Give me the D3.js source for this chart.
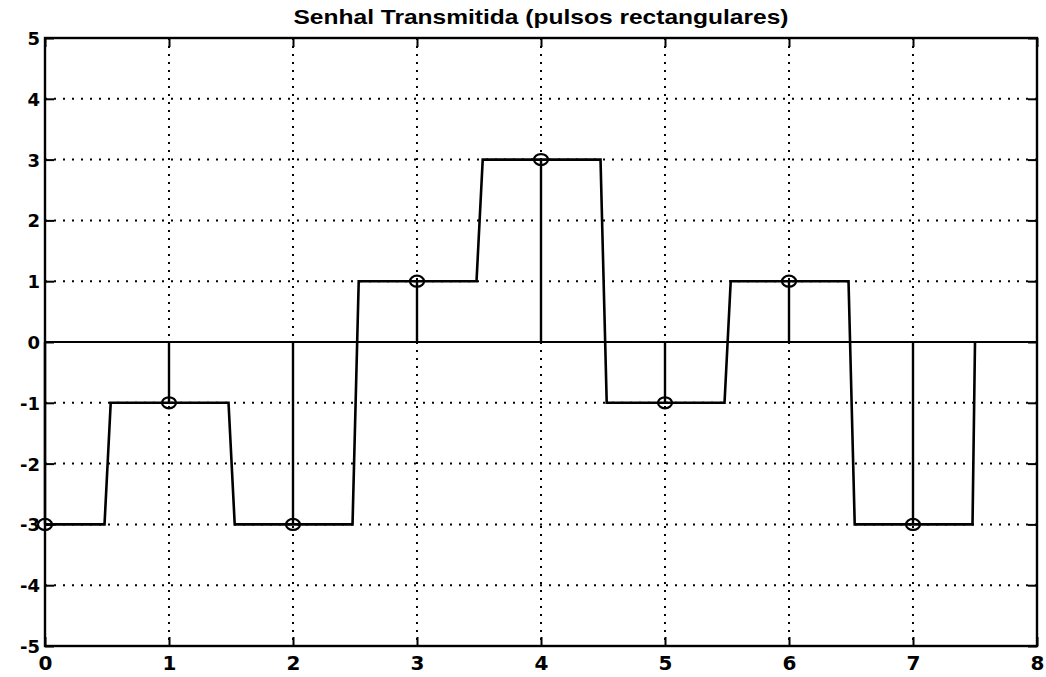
<!DOCTYPE html>
<html>
<head>
<meta charset="utf-8">
<script src="https://cdn.jsdelivr.net/npm/d3@7"></script>
<style>
  body { margin: 0; background: #fff; }
  text { font-family: "DejaVu Sans", "Liberation Sans", Arial, sans-serif; font-weight: bold; fill: #000; }
  .title { font-family: "Liberation Sans", Arial, sans-serif; }
</style>
</head>
<body>
<svg id="chart" width="1046" height="677"></svg>
<script>
// symbols sent (one per unit time)
var symbolTimes = [0, 1, 2, 3, 4, 5, 6, 7];
var symbolValues = [-3, -1, -3, 1, 3, -1, 1, -3];
var xTicks = [0, 1, 2, 3, 4, 5, 6, 7, 8];
var yTicks = [-5, -4, -3, -2, -1, 0, 1, 2, 3, 4, 5];
var titleText = "Senhal Transmitida (pulsos rectangulares)";

// edge of each pulse: transition starts/ends this far after the symbol time
var edgeStart = 0.48, edgeEnd = 0.53;

var svg = d3.select("#chart");
var margin = {top: 38, right: 9, bottom: 31, left: 45},
    width = 1046 - margin.left - margin.right,
    height = 677 - margin.top - margin.bottom;

var x = d3.scaleLinear().domain([0, 8]).range([0, width]);
var y = d3.scaleLinear().domain([-5, 5]).range([height, 0]);

var g = svg.append("g")
    .attr("transform", "translate(" + margin.left + "," + margin.top + ")");

// dotted grid
g.append("g").selectAll("line")
  .data(xTicks.slice(1, -1))
  .enter().append("line")
    .attr("x1", function(d) { return x(d); })
    .attr("x2", function(d) { return x(d); })
    .attr("y1", 0).attr("y2", height)
    .attr("stroke", "#000").attr("stroke-width", 2)
    .attr("stroke-dasharray", "2,6");
g.append("g").selectAll("line")
  .data(yTicks.slice(1, -1))
  .enter().append("line")
    .attr("y1", function(d) { return y(d); })
    .attr("y2", function(d) { return y(d); })
    .attr("x1", 0).attr("x2", width)
    .attr("stroke", "#000").attr("stroke-width", 2)
    .attr("stroke-dasharray", "2,7");

// axes with inward ticks on all four sides
var tickLen = 9;
g.append("g")
    .attr("transform", "translate(0," + height + ")")
    .call(d3.axisBottom(x).tickValues(xTicks).tickSize(-tickLen).tickPadding(10).tickSizeOuter(0).tickFormat(String))
    .call(function(a) { a.selectAll("text").style("font-size", "20px").attr("dy", "0.71em"); });
g.append("g")
    .call(d3.axisTop(x).tickValues(xTicks).tickSize(-tickLen).tickFormat("").tickSizeOuter(0));
g.append("g")
    .call(d3.axisLeft(y).tickValues(yTicks).tickSize(-tickLen).tickPadding(5).tickSizeOuter(0).tickFormat(String))
    .call(function(a) { a.selectAll("text").style("font-size", "18px").attr("dy", "0.36em"); });
g.append("g")
    .attr("transform", "translate(" + width + ",0)")
    .call(d3.axisRight(y).tickValues(yTicks).tickSize(-tickLen).tickFormat("").tickSizeOuter(0));
g.selectAll(".domain").remove();
g.selectAll(".tick line").attr("stroke", "#000").attr("stroke-width", 2);

// box
g.append("rect")
    .attr("x", 0).attr("y", 0).attr("width", width).attr("height", height)
    .attr("fill", "none").attr("stroke", "#000").attr("stroke-width", 2.4);

// zero baseline
g.append("line")
    .attr("x1", x(0)).attr("x2", x(8))
    .attr("y1", y(0)).attr("y2", y(0))
    .attr("stroke", "#000").attr("stroke-width", 2.2);

// rectangular pulse waveform
var wave = [[symbolTimes[0], symbolValues[0]]];
symbolTimes.forEach(function(t, i) {
  var next = i + 1 < symbolValues.length ? symbolValues[i + 1] : 0;
  wave.push([t + edgeStart, symbolValues[i]]);
  wave.push([t + edgeEnd, next]);
});
wave[wave.length - 1][0] = symbolTimes[symbolTimes.length - 1] + 0.5;

var line = d3.line()
    .x(function(d) { return x(d[0]); })
    .y(function(d) { return y(d[1]); });
g.append("path")
    .datum(wave)
    .attr("d", line)
    .attr("fill", "none")
    .attr("stroke", "#000")
    .attr("stroke-width", 2.6)
    .attr("stroke-linejoin", "miter");

// stems
g.append("g").selectAll("line")
  .data(symbolTimes)
  .enter().append("line")
    .attr("x1", function(d) { return x(d); })
    .attr("x2", function(d) { return x(d); })
    .attr("y1", y(0))
    .attr("y2", function(d, i) { return y(symbolValues[i]); })
    .attr("stroke", "#000").attr("stroke-width", 2.4);
g.append("g").selectAll("ellipse")
  .data(symbolTimes)
  .enter().append("ellipse")
    .attr("cx", function(d) { return x(d); })
    .attr("cy", function(d, i) { return y(symbolValues[i]); })
    .attr("rx", 7).attr("ry", 5.5)
    .attr("fill", "none").attr("stroke", "#000").attr("stroke-width", 2.2);

// title
svg.append("text")
    .attr("class", "title")
    .attr("x", margin.left + width / 2)
    .attr("y", 24)
    .attr("text-anchor", "middle")
    .attr("textLength", 495)
    .attr("lengthAdjust", "spacingAndGlyphs")
    .style("font-size", "20.5px")
    .text(titleText);
</script>
</body>
</html>
